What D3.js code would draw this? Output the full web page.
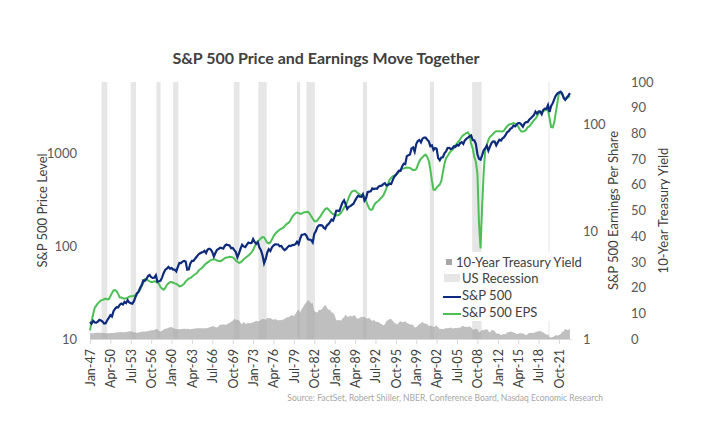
<!DOCTYPE html>
<html>
<head>
<meta charset="utf-8">
<script src="https://cdn.jsdelivr.net/npm/d3@7"></script>
<style>
  body { margin: 0; background: #fff; }
  svg text { font-family: Lato, "Open Sans", sans-serif; }
</style>
</head>
<body>
<div id="chart"></div>
<script>
// Quarterly observations (Jan, Apr, Jul, Oct), Jan-47 through Jul-23
const startYear = 1947;

// S&P 500 price level
const sp500 = [
  15.2, 14.6, 15.7, 15.1,   15.0, 15.4, 16.1, 15.8,   15.4, 14.7, 14.8, 15.9,
  16.9, 18.0, 17.4, 19.9,   21.2, 22.0, 21.9, 23.4,   24.1, 23.5, 25.1, 24.3,
  26.2, 24.7, 24.3, 24.0,   25.5, 28.3, 30.9, 32.2,   35.6, 38.0, 42.7, 42.3,
  44.2, 47.5, 48.8, 46.2,   45.4, 45.7, 48.5, 41.2,   41.7, 42.3, 46.0, 51.3,
  55.6, 57.1, 59.7, 57.0,   58.0, 55.7, 55.8, 53.4,   59.7, 65.8, 65.4, 68.0,
  69.1, 68.1, 55.6, 56.2,   65.1, 69.1, 69.1, 73.0,   76.5, 80.7, 83.2, 84.9,
  86.1, 88.9, 84.1, 91.4,   93.3, 91.6, 85.8, 77.1,   84.5, 91.0, 92.6, 95.7,
  95.0, 93.5, 100.5, 103.8, 102.0, 101.3, 94.7, 95.5, 90.3, 86.0, 75.7, 83.3,
  93.5, 103.0, 99.0, 97.3,  103.3, 108.8, 107.2, 107.7, 118.4, 110.3, 105.8, 109.8,
  96.1, 90.3, 79.3, 65.2,   72.6, 84.7, 92.5, 88.6,   96.9, 101.1, 104.2, 103.9,
  103.8, 99.1, 100.2, 94.3, 90.3, 92.7, 97.2, 100.7,  99.7, 102.1, 102.7, 104.5,
  110.9, 104.7, 119.8, 131.9, 133.0, 134.4, 129.1, 118.3, 117.3, 115.8, 109.4, 135.3,
  144.3, 160.1, 167.0, 167.7, 166.4, 157.5, 153.1, 166.1, 171.6, 180.6, 192.5, 187.7,
  208.2, 239.3, 240.2, 237.4, 264.5, 292.7, 310.1, 280.2, 250.5, 263.8, 268.3, 277.4,
  285.4, 307.7, 328.8, 347.4, 340.0, 338.2, 360.0, 307.1, 325.5, 379.7, 384.0, 386.9,
  416.1, 409.0, 415.1, 412.5, 435.2, 442.8, 445.8, 462.5, 473.0, 447.2, 453.0, 468.7,
  465.3, 508.5, 556.6, 578.8, 614.4, 647.2, 644.1, 717.5, 766.2, 758.3, 925.3, 947.3,
  963.4, 1122.0, 1148.6, 1032.5, 1248.8, 1345.0, 1381.0, 1300.0,
  1425.6, 1461.4, 1462.9, 1390.1, 1335.6, 1185.9, 1211.2, 1076.6,
  1130.2, 1111.9, 881.6, 836.8, 895.8, 900.4, 993.8, 1038.7,
  1132.5, 1134.4, 1105.9, 1118.1, 1181.4, 1164.4, 1222.2, 1199.4,
  1278.7, 1310.6, 1252.3, 1366.7, 1424.2, 1463.7, 1511.1, 1547.0,
  1378.8, 1371.7, 1257.3, 968.8, 865.6, 848.2, 942.9, 1067.7,
  1123.6, 1197.3, 1060.9, 1171.6, 1282.6, 1331.5, 1325.2, 1207.2,
  1300.6, 1387.4, 1359.8, 1437.8, 1480.4, 1562.2, 1676.3, 1720.0,
  1822.4, 1864.3, 1973.1, 1937.3, 2028.2, 2094.9, 2094.1, 2024.8,
  1918.6, 2075.5, 2148.9, 2143.0, 2275.1, 2359.3, 2454.1, 2557.0,
  2789.8, 2653.6, 2793.6, 2785.5, 2607.4, 2903.8, 2996.1, 2977.7,
  3278.2, 2762.0, 3207.6, 3418.7, 3793.8, 4141.2, 4363.7, 4464.2,
  4573.8, 4391.3, 3911.7, 3726.1, 3960.7, 4121.5, 4408.0
];

// S&P 500 earnings per share (trailing twelve months)
const eps = [
  1.20, 1.45, 1.70, 1.95,   2.05, 2.15, 2.22, 2.29,   2.32, 2.35, 2.38, 2.34,
  2.36, 2.50, 2.68, 2.84,   2.86, 2.80, 2.62, 2.44,   2.44, 2.40, 2.38, 2.40,
  2.42, 2.48, 2.50, 2.51,   2.53, 2.58, 2.68, 2.77,   2.90, 3.12, 3.35, 3.62,
  3.60, 3.52, 3.45, 3.41,   3.41, 3.45, 3.42, 3.37,   3.25, 3.05, 2.95, 2.89,
  3.00, 3.20, 3.30, 3.39,   3.40, 3.35, 3.30, 3.27,   3.20, 3.10, 3.12, 3.19,
  3.28, 3.45, 3.55, 3.67,   3.70, 3.80, 3.92, 4.02,   4.10, 4.30, 4.45, 4.55,
  4.70, 4.90, 5.05, 5.19,   5.30, 5.45, 5.50, 5.55,   5.50, 5.40, 5.35, 5.33,
  5.40, 5.55, 5.68, 5.76,   5.80, 5.85, 5.82, 5.78,   5.60, 5.40, 5.25, 5.13,
  5.20, 5.35, 5.55, 5.70,   5.85, 6.00, 6.20, 6.42,   6.80, 7.30, 7.75, 8.16,
  8.40, 8.70, 8.95, 8.89,   8.40, 7.90, 7.80, 7.96,   8.50, 9.10, 9.50, 9.91,
  10.2, 10.5, 10.7, 10.9,   11.2, 11.7, 12.0, 12.3,   13.0, 13.8, 14.4, 14.9,
  15.1, 15.0, 14.7, 14.8,   15.1, 15.2, 15.3, 15.4,   14.8, 14.0, 13.3, 12.6,
  12.5, 12.8, 13.4, 14.0,   14.8, 15.6, 16.3, 16.6,   16.2, 15.6, 15.0, 14.6,
  14.4, 14.2, 14.3, 14.5,   15.0, 15.8, 16.8, 17.5,   19.0, 21.0, 22.5, 23.8,
  24.1, 24.3, 23.5, 22.9,   22.4, 22.0, 21.8, 21.3,   19.5, 17.8, 16.5, 16.0,
  16.2, 17.5, 18.5, 19.1,   19.5, 20.3, 21.0, 21.9,   23.5, 25.5, 28.0, 30.6,
  31.8, 33.0, 33.5, 34.0,   35.0, 36.5, 37.8, 38.7,   39.0, 39.5, 39.8, 39.7,
  39.5, 38.5, 37.8, 37.7,   38.5, 42.0, 45.5, 48.2,   49.5, 51.5, 52.5, 50.0,
  46.0, 38.0, 30.0, 24.7,   24.7, 25.8, 26.8, 27.6,   29.8, 36.0, 43.0, 48.7,
  51.0, 54.0, 56.5, 58.6,   60.5, 64.0, 67.0, 69.9,   73.0, 77.0, 80.0, 81.5,
  83.5, 84.9, 80.0, 66.2,   60.0, 50.0, 45.0, 35.0,   12.0, 7.0, 17.0, 36.0,
  58.0, 65.0, 72.0, 77.0,   79.0, 82.0, 85.0, 87.0,   87.0, 87.0, 86.5, 86.5,
  88.0, 93.0, 97.0, 100.0,  101.0, 102.0, 103.5, 102.3, 100.0, 96.0, 90.0, 86.5,
  86.5, 87.0, 89.0, 94.5,   96.0, 100.0, 105.0, 109.9, 113.0, 120.0, 127.0, 132.4,
  132.0, 134.0, 136.0, 139.5, 136.0, 115.0, 95.0, 94.5, 105.0, 130.0, 160.0, 197.9,
  196.0, 192.0, 180.0, 172.8, 175.0, 181.0, 185.0
];

// 10-year Treasury yield (%)
const tenYear = [
  2.21, 2.20, 2.23, 2.36,   2.45, 2.40, 2.43, 2.42,   2.37, 2.30, 2.20, 2.22,
  2.20, 2.29, 2.33, 2.38,   2.40, 2.64, 2.67, 2.65,   2.71, 2.61, 2.67, 2.75,
  2.80, 3.06, 3.01, 2.83,   2.60, 2.50, 2.40, 2.50,   2.70, 2.80, 2.90, 2.90,
  2.90, 3.10, 3.20, 3.40,   3.40, 3.50, 3.90, 3.80,   3.10, 2.90, 3.20, 3.80,
  4.00, 4.10, 4.40, 4.60,   4.70, 4.30, 4.00, 3.90,   3.80, 3.80, 3.90, 3.90,
  4.10, 3.90, 4.00, 3.90,   3.80, 3.90, 4.00, 4.10,   4.20, 4.20, 4.20, 4.20,
  4.20, 4.20, 4.20, 4.30,   4.60, 4.70, 5.00, 5.00,   4.60, 4.50, 5.00, 5.50,
  5.50, 5.60, 5.50, 5.50,   6.00, 6.20, 6.70, 7.10,   7.80, 7.50, 7.50, 7.30,
  6.20, 5.80, 6.70, 5.90,   6.00, 6.20, 6.10, 6.30,   6.50, 6.70, 7.10, 6.80,
  7.00, 7.50, 7.80, 7.80,   7.50, 8.20, 8.10, 8.20,   7.70, 7.50, 7.80, 7.50,
  7.20, 7.40, 7.30, 7.50,   7.90, 8.20, 8.60, 8.60,   9.10, 9.20, 8.90, 9.80,
  10.8, 11.5, 10.3, 11.6,   12.6, 13.6, 14.3, 15.2,   14.6, 13.8, 14.0, 10.9,
  10.5, 10.3, 11.4, 11.3,   11.7, 12.6, 13.3, 12.3,   11.4, 11.4, 10.3, 10.2,
  9.20, 7.30, 7.30, 7.40,   7.10, 8.00, 8.50, 9.50,   8.70, 8.70, 9.10, 8.80,
  9.10, 9.20, 8.00, 8.00,   8.20, 8.80, 8.50, 8.70,   8.10, 8.00, 8.30, 7.50,
  7.00, 7.50, 6.80, 6.60,   6.60, 6.00, 5.80, 5.30,   5.70, 7.00, 7.30, 7.80,
  7.80, 7.10, 6.30, 6.00,   5.60, 6.50, 6.90, 6.50,   6.60, 6.90, 6.20, 6.00,
  5.60, 5.60, 5.50, 4.50,   4.70, 5.20, 5.80, 6.10,   6.70, 6.00, 6.00, 5.70,
  5.20, 5.10, 5.20, 4.60,   5.00, 5.30, 4.60, 3.90,   4.00, 3.80, 4.00, 4.30,
  4.20, 4.30, 4.50, 4.10,   4.20, 4.30, 4.20, 4.50,   4.40, 5.00, 5.10, 4.70,
  4.80, 4.70, 5.00, 4.50,   3.70, 3.70, 4.00, 3.80,   2.50, 2.90, 3.60, 3.40,
  3.70, 3.90, 3.00, 2.50,   3.40, 3.50, 3.00, 2.20,   2.00, 2.10, 1.50, 1.80,
  1.90, 1.80, 2.60, 2.60,   2.90, 2.70, 2.50, 2.30,   1.90, 1.90, 2.30, 2.10,
  2.10, 1.80, 1.50, 1.80,   2.40, 2.30, 2.30, 2.40,   2.60, 2.90, 2.90, 3.20,
  2.70, 2.50, 2.10, 1.70,   1.80, 0.70, 0.60, 0.80,   1.10, 1.60, 1.30, 1.60,
  1.80, 2.80, 2.90, 4.00,   3.50, 3.50, 3.90
];

// NBER recessions [start, end] as "YYYY-MM"
const recessions = [
  ['1948-11', '1949-10'], ['1953-07', '1954-05'], ['1957-08', '1958-04'],
  ['1960-04', '1961-02'], ['1969-12', '1970-11'], ['1973-11', '1975-03'],
  ['1980-01', '1980-07'], ['1981-07', '1982-11'], ['1990-07', '1991-03'],
  ['2001-03', '2001-11'], ['2007-12', '2009-06'], ['2020-02', '2020-04']
];

const leftTicks = [10, 100, 1000];
const epsTicks = [1, 10, 100];
const yieldTicks = d3.range(0, 101, 10);

const parseMonth = d3.timeParse('%Y-%m');
const dates = sp500.map((_, i) => new Date(startYear, i * 3, 1));
const tickDates = dates.filter((_, i) => i % 13 === 0);

const W = 710, H = 445;
const plot = { left: 90, right: 571, top: 82, bottom: 339 };

const svg = d3.select('#chart').append('svg')
  .attr('width', W)
  .attr('height', H);

const x = d3.scaleTime()
  .domain([new Date(1947, 0, 1), new Date(2023, 8, 1)])
  .range([plot.left, plot.right]);
const yPrice = d3.scaleLog().domain([10, 5800]).range([plot.bottom, plot.top]);
const yEps = d3.scaleLog().domain([1, 250]).range([plot.bottom, plot.top]);
const yYield = d3.scaleLinear().domain([0, 100]).range([plot.bottom, plot.top]);

// recession shading
svg.append('g').selectAll('rect')
  .data(recessions)
  .join('rect')
  .attr('x', d => x(parseMonth(d[0])))
  .attr('width', d => x(parseMonth(d[1])) - x(parseMonth(d[0])))
  .attr('y', plot.top)
  .attr('height', plot.bottom - plot.top)
  .attr('fill', '#e6e6e6');

// treasury yield area
const area = d3.area()
  .x((d, i) => x(dates[i]))
  .y0(plot.bottom)
  .y1(d => yYield(d));
svg.append('path')
  .datum(tenYear)
  .attr('d', area)
  .attr('fill', '#a6a6a6')
  .attr('fill-opacity', 0.72);

// price and eps lines
const epsLine = d3.line().x((d, i) => x(dates[i])).y(d => yEps(d));
const priceLine = d3.line().x((d, i) => x(dates[i])).y(d => yPrice(d));

svg.append('path')
  .datum(eps)
  .attr('d', epsLine)
  .attr('fill', 'none')
  .attr('stroke', '#4cbf56')
  .attr('stroke-width', 2);

svg.append('path')
  .datum(sp500)
  .attr('d', priceLine)
  .attr('fill', 'none')
  .attr('stroke', '#0d2a7d')
  .attr('stroke-width', 2.2);

// x axis
const xAxis = svg.append('g')
  .attr('transform', `translate(0,${plot.bottom})`)
  .call(d3.axisBottom(x).tickValues(tickDates).tickFormat(d3.timeFormat('%b-%y')).tickSize(5).tickSizeOuter(0));
xAxis.select('.domain').attr('stroke', '#d9d9d9');
xAxis.selectAll('.tick line').attr('stroke', '#d9d9d9');
xAxis.selectAll('.tick text')
  .attr('transform', 'rotate(-90)')
  .attr('text-anchor', 'end')
  .attr('x', -10)
  .attr('y', 0)
  .attr('dy', '0.35em')
  .attr('fill', '#404040')
  .style('font-size', '12.5px');

// y axes, labels only
function styleAxis(g) {
  g.select('.domain').remove();
  g.selectAll('.tick line').remove();
  g.selectAll('.tick text').attr('fill', '#595959').style('font-size', '13px');
}

svg.append('g')
  .attr('transform', 'translate(80,0)')
  .call(d3.axisLeft(yPrice).tickValues(leftTicks).tickFormat(d3.format('d')).tickSize(0).tickPadding(3))
  .call(styleAxis);

svg.append('g')
  .attr('transform', 'translate(583,0)')
  .call(d3.axisRight(yEps).tickValues(epsTicks).tickFormat(d3.format('d')).tickSize(0).tickPadding(0))
  .call(styleAxis);

svg.append('g')
  .attr('transform', 'translate(631,0)')
  .call(d3.axisRight(yYield).tickValues(yieldTicks).tickSize(0).tickPadding(0))
  .call(styleAxis);

// axis titles
const titleY = (plot.top + plot.bottom) / 2;
[['S&P 500 Price Level', 42], ['S&P 500 Earnings Per Share', 613], ['10-Year Treasury Yield', 663]]
  .forEach(([t, cx]) => {
    svg.append('text')
      .attr('transform', `translate(${cx},${titleY}) rotate(-90)`)
      .attr('text-anchor', 'middle')
      .attr('dy', '0.35em')
      .attr('fill', '#404040')
      .style('font-size', '13px')
      .text(t);
  });

// chart title
svg.append('text')
  .attr('x', 326)
  .attr('y', 64)
  .attr('text-anchor', 'middle')
  .attr('fill', '#404040')
  .style('font-size', '16px')
  .style('font-weight', 'bold')
  .text('S&P 500 Price and Earnings Move Together');

// legend
const legend = svg.append('g');
legend.append('rect')
  .attr('x', 440).attr('y', 252)
  .attr('width', 142).attr('height', 69)
  .attr('fill', '#fff');

const items = [
  { label: '10-Year Treasury Yield', type: 'square', y: 262 },
  { label: 'US Recession', type: 'band', y: 278 },
  { label: 'S&P 500', type: 'line', color: '#0d2a7d', y: 295 },
  { label: 'S&P 500 EPS', type: 'line', color: '#4cbf56', y: 312 }
];
items.forEach(d => {
  if (d.type === 'square') {
    legend.append('rect').attr('x', 446).attr('y', d.y - 3).attr('width', 6).attr('height', 6).attr('fill', '#a6a6a6');
  } else if (d.type === 'band') {
    legend.append('rect').attr('x', 444).attr('y', d.y - 4).attr('width', 16).attr('height', 8).attr('fill', '#e6e6e6');
  } else {
    legend.append('line').attr('x1', 443).attr('x2', 461).attr('y1', d.y + 2).attr('y2', d.y + 2)
      .attr('stroke', d.color).attr('stroke-width', 2);
  }
  legend.append('text')
    .attr('x', d.type === 'square' ? 456 : 462)
    .attr('y', d.y)
    .attr('dy', '0.35em')
    .attr('fill', '#404040')
    .style('font-size', '13px')
    .text(d.label);
});

// source note
svg.append('text')
  .attr('x', 603)
  .attr('y', 401)
  .attr('text-anchor', 'end')
  .attr('fill', '#a6a6a6')
  .style('font-size', '8.5px')
  .text('Source: FactSet, Robert Shiller, NBER, Conference Board, Nasdaq Economic Research');
</script>
</body>
</html>
